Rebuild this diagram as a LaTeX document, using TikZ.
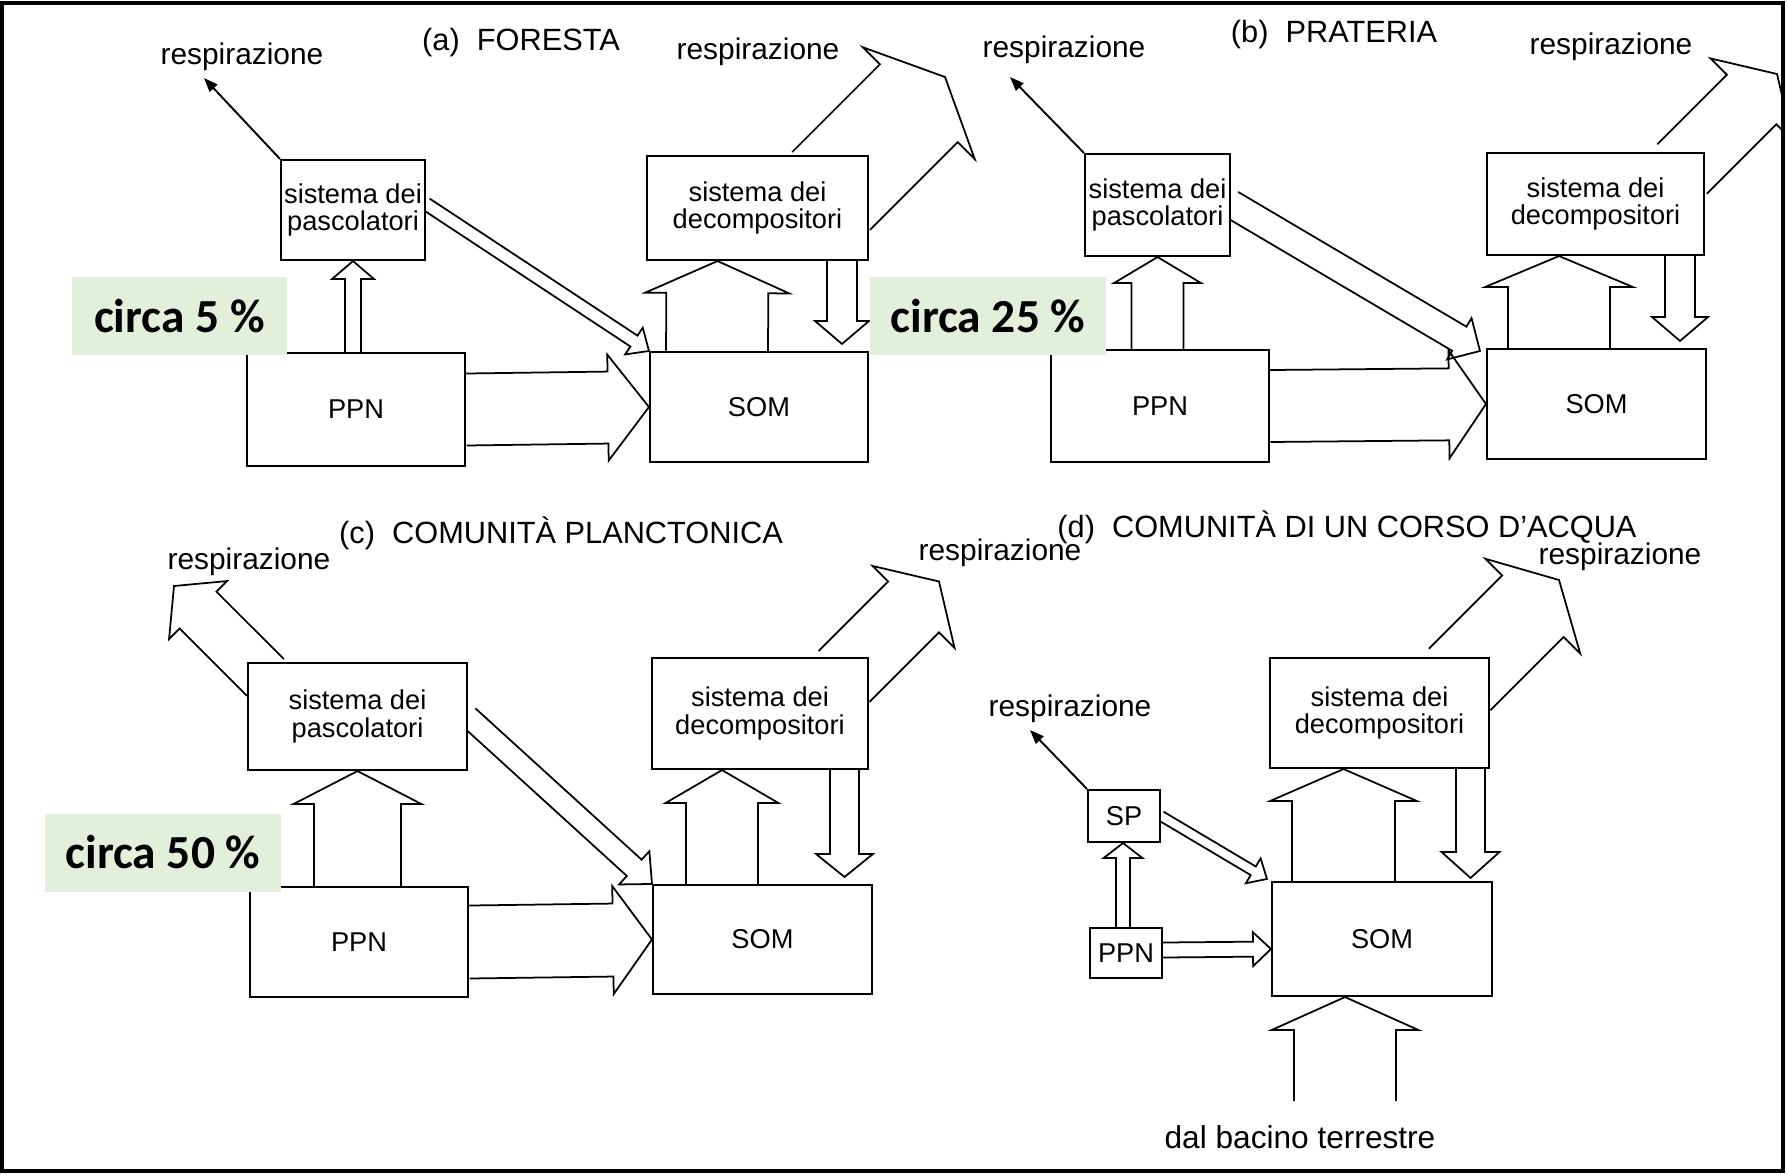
\documentclass[tikz,border=0pt]{standalone}
\usepackage{fontspec}
\setmainfont{Liberation Sans}
\newfontfamily\carlito{Carlito}
\usetikzlibrary{arrows.meta,calc,backgrounds}
\definecolor{pctgreen}{HTML}{E2EFDA}

% hollow block arrow: from, to, half shaft, half head, head length
\newcommand{\hollowarrow}[5]{%
  \coordinate (ha) at (#1);
  \coordinate (hb) at (#2);
  \coordinate (hh) at ($(hb)!#5!(ha)$);
  \draw[hollow] ($(ha)!#3!90:(hb)$) -- ($(hh)!#3!90:(hb)$)
    -- ($(hh)!#4!90:(hb)$) -- (hb) -- ($(hh)!#4!-90:(hb)$)
    -- ($(hh)!#3!-90:(hb)$) -- ($(ha)!#3!-90:(hb)$);
}

\begin{document}
\begin{tikzpicture}[x=0.02cm, y=-0.02cm,
  box/.style={draw, fill=white, line width=1.2pt, inner sep=0pt, align=center,
    font=\fontsize{15.5}{15.5}\selectfont},
  heading/.style={font=\fontsize{17.5}{17.5}\selectfont},
  resp/.style={font=\fontsize{17}{17}\selectfont},
  pct/.style={fill=pctgreen, inner sep=0pt,
    font=\carlito\bfseries\fontsize{27}{27}\selectfont},
  hollow/.style={line width=1pt},
  thinarr/.style={-{Triangle[length=8pt, width=6pt]}, line width=1.1pt}
]
  \useasboundingbox (0,0) rectangle (1787,1174);
  \draw[line width=2.2pt] (2,3) rectangle (1783,1171);

  % (a) foresta
  \node[heading] (titA) at (521,43) {(a)\ \ FORESTA};
  \node[resp] (respA1) at (242,57) {respirazione};
  \node[resp] (respA2) at (758,52) {respirazione};
  \node[box, minimum width=2.88cm, minimum height=2cm] (pascA) at (353,210)
    {sistema dei\\pascolatori};
  \node[box, minimum width=4.36cm, minimum height=2.26cm] (ppnA) at (356,409.5) {PPN};
  \node[box, minimum width=4.36cm, minimum height=2.2cm] (somA) at (759,407) {SOM};
  \node[box, minimum width=4.42cm, minimum height=2.08cm] (decA) at (757.5,208)
    {sistema dei\\decompositori};
  \coordinate (ventA1) at (204,78);
  \coordinate (ventA) at (945,77);

  % (b) prateria
  \node[heading] (titB) at (1334,35) {(b)\ \ PRATERIA};
  \node[resp] (respB1) at (1064,50) {respirazione};
  \node[resp] (respB2) at (1611,47) {respirazione};
  \node[box, minimum width=2.9cm, minimum height=2.04cm] (pascB) at (1157.5,205)
    {sistema dei\\pascolatori};
  \node[box, minimum width=4.36cm, minimum height=2.24cm] (ppnB) at (1160,406) {PPN};
  \node[box, minimum width=4.38cm, minimum height=2.2cm] (somB) at (1596.5,404) {SOM};
  \node[box, minimum width=4.34cm, minimum height=2.04cm] (decB) at (1595.5,204)
    {sistema dei\\decompositori};
  \coordinate (ventB1) at (1010,77);
  \coordinate (ventB) at (1777,74);

  % (c) comunita planctonica
  \node[heading] (titC) at (561,533) {(c)\ \ COMUNITÀ PLANCTONICA};
  \node[resp] (respC1) at (249,562) {respirazione};
  \node[resp] (respC2) at (1000,553) {respirazione};
  \node[box, minimum width=4.38cm, minimum height=2.14cm] (pascC) at (357.5,716.5)
    {sistema dei\\pascolatori};
  \node[box, minimum width=4.36cm, minimum height=2.2cm] (ppnC) at (359,942) {PPN};
  \node[box, minimum width=4.38cm, minimum height=2.18cm] (somC) at (762.5,939.5) {SOM};
  \node[box, minimum width=4.32cm, minimum height=2.22cm] (decC) at (760,713.5)
    {sistema dei\\decompositori};
  \coordinate (ventC1) at (174,586);
  \coordinate (ventC) at (939,581.5);

  % (d) corso d'acqua
  \node[heading] (titD) at (1347,527) {(d)\ \ COMUNITÀ DI UN CORSO D’ACQUA};
  \node[resp] (respD1) at (1070,709) {respirazione};
  \node[resp] (respD2) at (1620,557) {respirazione};
  \node[box, minimum width=1.44cm, minimum height=1.04cm] (spD) at (1124,816) {SP};
  \node[box, minimum width=1.44cm, minimum height=1cm] (ppnD) at (1126,953) {PPN};
  \node[box, minimum width=4.4cm, minimum height=2.28cm] (somD) at (1382,939) {SOM};
  \node[box, minimum width=4.38cm, minimum height=2.2cm] (decD) at (1379.5,713)
    {sistema dei\\decompositori};
  \node[font=\fontsize{18}{18}\selectfont] (bacino) at (1300,1137) {dal bacino terrestre};
  \coordinate (ventD1) at (1030,730);
  \coordinate (ventD) at (1559,580);

  \begin{scope}[on background layer]
    \clip (0,0) rectangle (1782,1174);
    % (a)
    \draw[thinarr] (pascA.north west) -- (ventA1);
    \hollowarrow{ppnA.north -| pascA.south}{pascA.south}{0.16cm}{0.42cm}{0.36cm}
    \hollowarrow{ppnA.east}{somA.west}{0.72cm}{1.06cm}{0.82cm}
    \hollowarrow{$(pascA.east)+(0,-6)$}{somA.north west}{0.13cm}{0.32cm}{0.36cm}
    \hollowarrow{$(somA.north)+(-42,0)$}{$(decA.south)+(-40,0)$}{1.02cm}{1.44cm}{0.64cm}
    \hollowarrow{$(decA.south)+(84.5,0)$}{$(somA.north)+(83,-7)$}{0.3cm}{0.54cm}{0.46cm}
    \hollowarrow{$(decA.north east)+(-38,36)$}{ventA}{1.1cm}{1.58cm}{0.74cm}
    % (b)
    \draw[thinarr] (pascB.north west) -- (ventB1);
    \hollowarrow{ppnB.north -| pascB.south}{pascB.south}{0.52cm}{0.87cm}{0.52cm}
    \hollowarrow{ppnB.east}{somB.west}{0.72cm}{1.08cm}{0.74cm}
    \hollowarrow{$(pascB.east)+(0,-1)$}{$(somB.north west)+(-6,3)$}{0.28cm}{0.48cm}{0.48cm}
    \hollowarrow{$(somB.north)+(-37.5,0)$}{$(decB.south)+(-36.5,0)$}{1.02cm}{1.48cm}{0.62cm}
    \hollowarrow{$(decB.south)+(84.5,0)$}{$(somB.north)+(83.5,-7)$}{0.3cm}{0.56cm}{0.48cm}
    \hollowarrow{$(decB.north east)+(-23,17)$}{ventB}{0.7cm}{1.16cm}{0.72cm}
    % (c)
    \hollowarrow{$(pascC.north west)+(18.5,15.5)$}{ventC1}{0.52cm}{0.82cm}{0.68cm}
    \hollowarrow{ppnC.north -| pascC.south}{pascC.south}{0.87cm}{1.28cm}{0.66cm}
    \hollowarrow{ppnC.east}{somC.west}{0.73cm}{1.08cm}{0.78cm}
    \hollowarrow{pascC.east}{somC.north west}{0.22cm}{0.45cm}{0.48cm}
    \hollowarrow{$(somC.north)+(-40.5,0)$}{$(decC.south)+(-38,0)$}{0.72cm}{1.13cm}{0.66cm}
    \hollowarrow{$(decC.south)+(84.5,0)$}{$(somC.north)+(82,-7)$}{0.29cm}{0.57cm}{0.46cm}
    \hollowarrow{$(decC.north east)+(-25,19.5)$}{ventC}{0.72cm}{1.16cm}{0.72cm}
    % (d)
    \draw[thinarr] (spD.north west) -- (ventD1);
    \hollowarrow{$(ppnD.north)+(-3,0)$}{$(spD.south)+(-1,0)$}{0.14cm}{0.39cm}{0.3cm}
    \hollowarrow{$(ppnD.east)+(0,-3)$}{$(somD.west)+(0,10)$}{0.15cm}{0.34cm}{0.36cm}
    \hollowarrow{spD.east}{$(somD.north west)+(-4,-2)$}{0.1cm}{0.29cm}{0.32cm}
    \hollowarrow{$(somD.north)+(-38.5,0)$}{$(decD.south)+(-36,0)$}{1.03cm}{1.47cm}{0.64cm}
    \hollowarrow{$(decD.south)+(91,0)$}{$(somD.north)+(88.5,-3)$}{0.29cm}{0.58cm}{0.52cm}
    \hollowarrow{$(decD.north east)+(-30.5,22.5)$}{ventD}{0.87cm}{1.34cm}{0.74cm}
    \hollowarrow{$(bacino.north)+(45,-18)$}{$(somD.south)+(-37,0)$}{1.02cm}{1.47cm}{0.66cm}
  \end{scope}

  \node[pct, minimum width=4.3cm, minimum height=1.56cm] (pctA) at (179.5,316) {circa 5 \%};
  \node[pct, minimum width=4.72cm, minimum height=1.56cm] (pctB) at (988,316) {circa 25 \%};
  \node[pct, minimum width=4.72cm, minimum height=1.56cm] (pctC) at (163,852.5) {circa 50 \%};
\end{tikzpicture}
\end{document}
